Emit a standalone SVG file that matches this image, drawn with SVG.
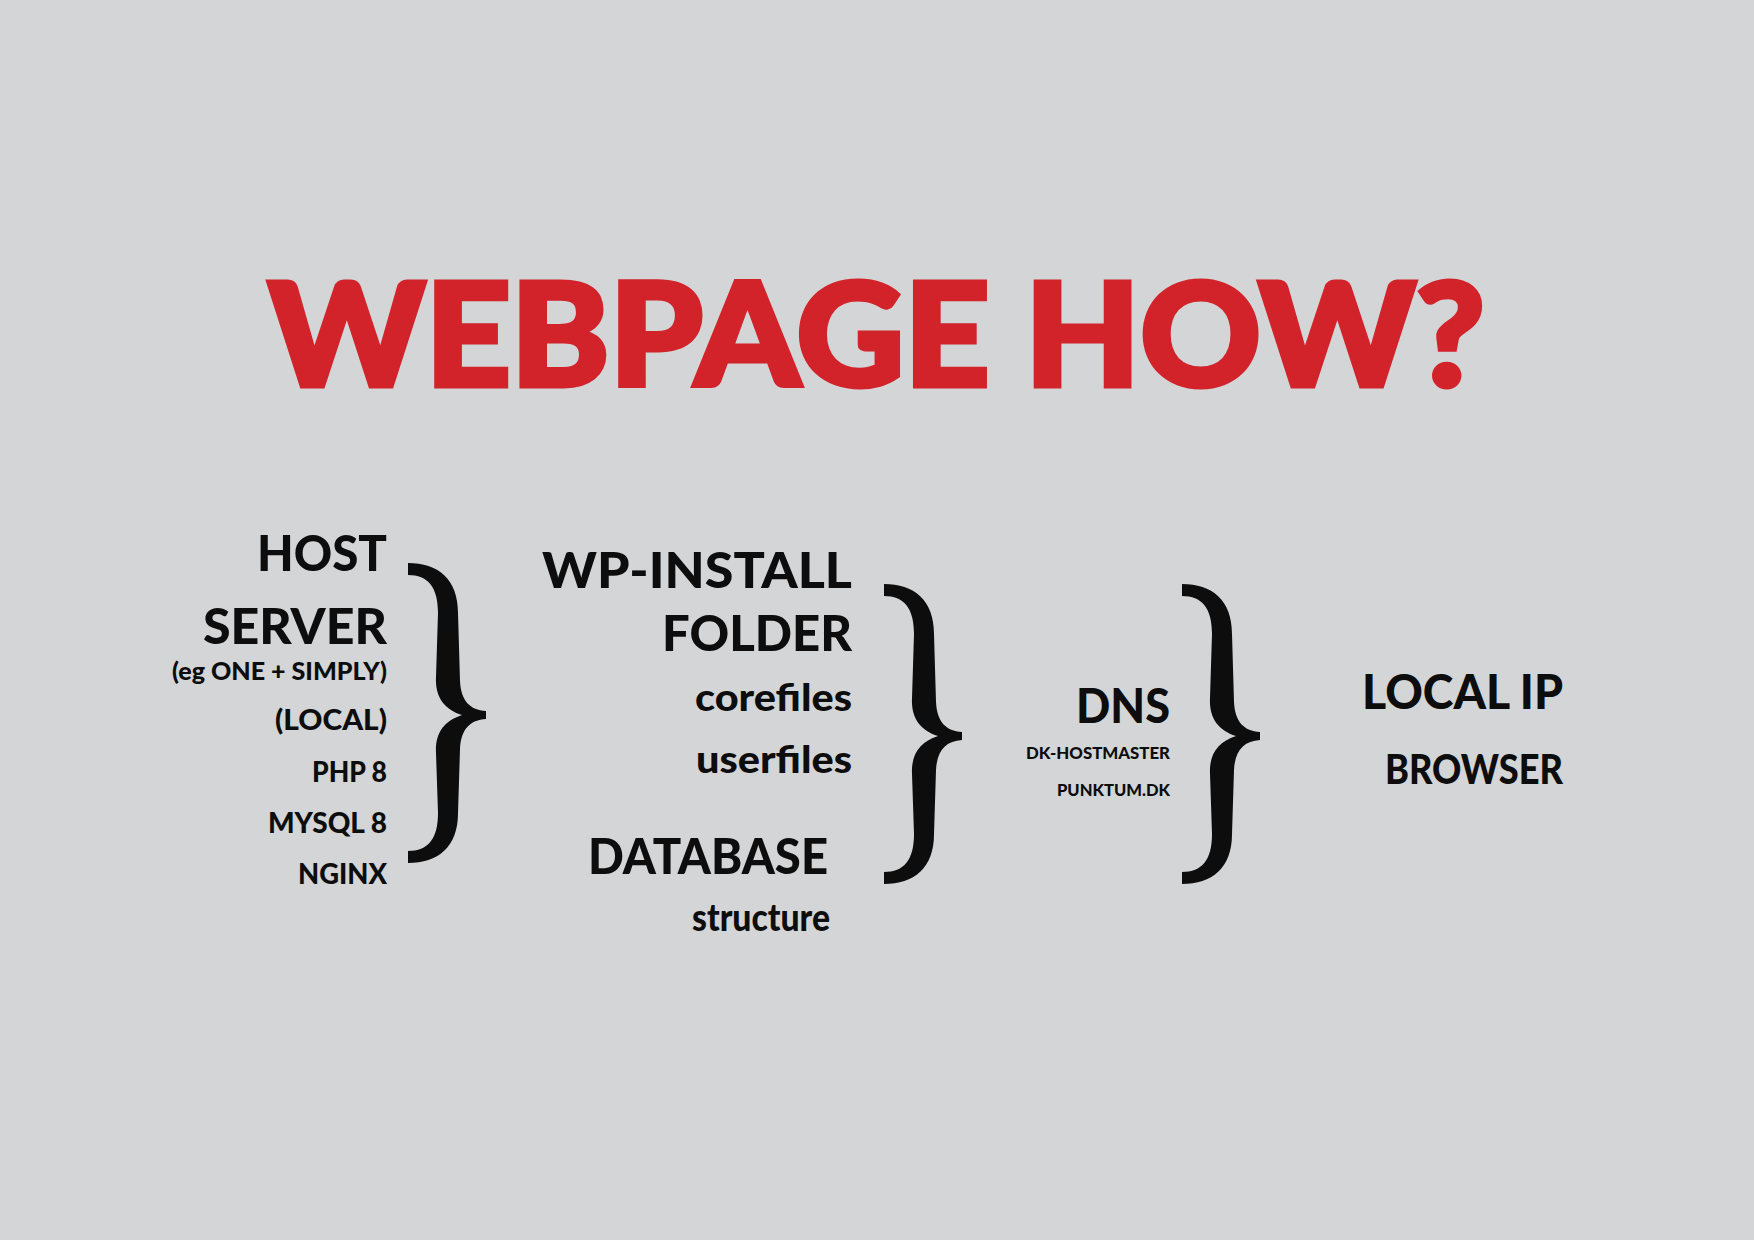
<svg xmlns="http://www.w3.org/2000/svg" xmlns:xlink="http://www.w3.org/1999/xlink" width="1754" height="1240" viewBox="0 0 1754 1240">
  <style>
    .t { font-family: Lato, "Liberation Sans", "DejaVu Sans", sans-serif; font-weight: 900; fill: #0d0d0d; text-anchor: end; }
    .title { font-family: Lato, "Liberation Sans", "DejaVu Sans", sans-serif; font-weight: 900; fill: #d2232a; stroke: #d2232a; stroke-width: 5; stroke-linejoin: miter; }
    .big { font-size: 50px; }
    .mid { font-size: 28px; }
    .low { font-size: 38px; }
    .tiny { font-size: 16.5px; }
    .brace { fill: #0d0d0d; }
  </style>
  <defs>
    <path id="brace" d="M0,0 C30,0 50,16 50,50 L52,118 C53,138 62,147 78,148 L78,156 C62,157 53,166 52,186 L50,250 C50,284 30,300 0,300 L0,288 C20,288 30,276 30,250 L28,190 C27,170 36,158 54,152 C36,146 27,134 28,114 L30,50 C30,24 20,12 0,12 Z"/>
  </defs>
  <rect x="0" y="0" width="1754" height="1240" fill="#d4d5d7"/>

  <g id="title">
    <text class="title" x="268" y="386" font-size="143" textLength="1217" lengthAdjust="spacingAndGlyphs">WEBPAGE HOW?</text>
  </g>

  <g id="host-server">
    <text class="t big" x="387" y="571" textLength="130" lengthAdjust="spacingAndGlyphs">HOST</text>
    <text class="t big" x="387" y="644" textLength="184" lengthAdjust="spacingAndGlyphs">SERVER</text>
    <text class="t" x="387" y="680" font-size="25" textLength="215" lengthAdjust="spacingAndGlyphs">(eg ONE + SIMPLY)</text>
    <text class="t mid" x="387" y="730" textLength="112" lengthAdjust="spacingAndGlyphs">(LOCAL)</text>
    <text class="t mid" x="387" y="782" textLength="75" lengthAdjust="spacingAndGlyphs">PHP 8</text>
    <text class="t mid" x="387" y="833" textLength="119" lengthAdjust="spacingAndGlyphs">MYSQL 8</text>
    <text class="t mid" x="387" y="884" textLength="89" lengthAdjust="spacingAndGlyphs">NGINX</text>
  </g>

  <g id="wp-install">
    <text class="t big" x="852" y="588" textLength="310" lengthAdjust="spacingAndGlyphs">WP-INSTALL</text>
    <text class="t big" x="852" y="651" textLength="190" lengthAdjust="spacingAndGlyphs">FOLDER</text>
    <text class="t low" x="852" y="711" textLength="157" lengthAdjust="spacingAndGlyphs">corefiles</text>
    <text class="t low" x="852" y="773" textLength="156" lengthAdjust="spacingAndGlyphs">userfiles</text>
  </g>

  <g id="database">
    <text class="t big" x="828" y="874" textLength="240" lengthAdjust="spacingAndGlyphs">DATABASE</text>
    <text class="t low" x="830" y="931" textLength="138" lengthAdjust="spacingAndGlyphs">structure</text>
  </g>

  <g id="dns">
    <text class="t" x="1170" y="723" font-size="47" textLength="94" lengthAdjust="spacingAndGlyphs">DNS</text>
    <text class="t tiny" x="1170" y="759" textLength="144" lengthAdjust="spacingAndGlyphs">DK-HOSTMASTER</text>
    <text class="t tiny" x="1170" y="796" textLength="113" lengthAdjust="spacingAndGlyphs">PUNKTUM.DK</text>
  </g>

  <g id="local-ip">
    <text class="t" x="1563" y="709" font-size="47" textLength="201" lengthAdjust="spacingAndGlyphs">LOCAL IP</text>
    <text class="t" x="1563" y="784" font-size="41" textLength="178" lengthAdjust="spacingAndGlyphs">BROWSER</text>
  </g>

  <g id="connectors">
    <use xlink:href="#brace" href="#brace" class="brace" transform="translate(408,563)"/>
    <use xlink:href="#brace" href="#brace" class="brace" transform="translate(884,584)"/>
    <use xlink:href="#brace" href="#brace" class="brace" transform="translate(1182,584)"/>
  </g>
</svg>
